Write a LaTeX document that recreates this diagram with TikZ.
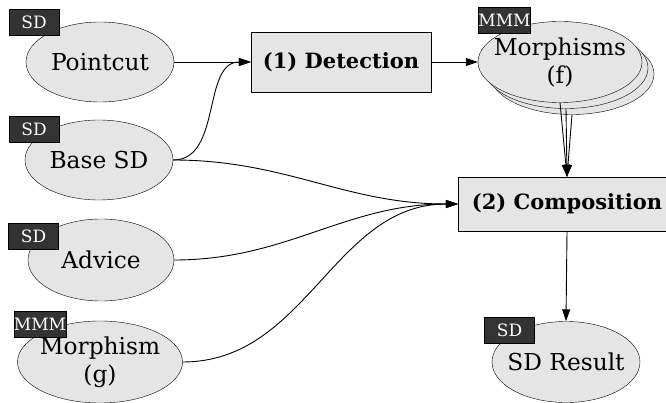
\documentclass[tikz,border=0pt]{standalone}
\usepackage{fontspec}
\setmainfont{DejaVu Serif}
\usetikzlibrary{shapes.geometric,arrows.meta}
\definecolor{nodegray}{HTML}{E5E5E5}
\definecolor{taggray}{HTML}{333333}

\begin{document}
\begin{tikzpicture}[x=1pt,y=-1pt,
  ell/.style={ellipse,draw,fill=nodegray,inner sep=-15pt,minimum height=80pt,align=center,font=\fontsize{23.3}{28}\selectfont},
  proc/.style={rectangle,draw,fill=nodegray,inner sep=0pt,font=\fontsize{21}{25}\selectfont\bfseries},
  tag/.style={rectangle,draw=black,fill=taggray,text=white,inner sep=0pt,minimum width=50pt,minimum height=26pt,font=\fontsize{17}{18}\selectfont},
  edge/.style={-{Triangle[length=12pt,width=8pt]},line width=0.9pt}]
\useasboundingbox (0,0) rectangle (666,403);
% inputs
\node[ell,minimum width=148pt] (pc) at (100,62) {Pointcut};
\node[ell,minimum width=148pt] (bsd) at (99,160) {Base SD};
\node[ell,minimum width=146pt,minimum height=82pt] (adv) at (101,260) {Advice};
\node[ell,minimum width=165pt,minimum height=82pt] (mg) at (100,362) {Morphism\\(g)};
% processes
\node[proc,minimum width=180pt,minimum height=60pt] (det) at (341,62) {(1) Detection};
\node[proc,minimum width=218pt,minimum height=54pt] (comp) at (567,204) {(2) Composition};
% outputs
\node[ell,minimum width=164pt,minimum height=81pt] (mf3) at (572,74) {};
\node[ell,minimum width=164pt,minimum height=81pt] (mf2) at (566,68) {};
\node[ell,minimum width=164pt,minimum height=81pt] (mf) at (560,62) {Morphisms\\(f)};
\node[ell,minimum width=148pt,minimum height=81pt] (res) at (566,362) {SD Result};
% tags
\node[tag] (tpc) at (34,22) {SD};
\node[tag] (tbsd) at (34,129) {SD};
\node[tag] (tadv) at (33.5,236) {SD};
\node[tag,minimum width=51pt] (tmg) at (40,324.5) {MMM};
\node[tag,minimum width=51pt] (tmf) at (504.5,20) {MMM};
\node[tag] (tres) at (509.5,330.5) {SD};
% edges
\draw[edge] (pc) -- (det);
\draw[edge] (bsd.east) to[out=0,in=180] (det.west);
\draw[edge] (det) -- (mf);
\draw[edge] (mf.south) -- (comp.north);
\draw[edge] (mf2.south) -- (comp.north);
\draw[edge] (mf3.south) -- (comp.north);
\draw[edge] (bsd.east) to[out=0,in=180] (comp.west);
\draw[edge] (adv.east) to[out=0,in=180] (comp.west);
\draw[edge] (mg.east) to[out=0,in=180] (comp.west);
\draw[edge] (comp.south) -- (res.north);
\end{tikzpicture}
\end{document}
